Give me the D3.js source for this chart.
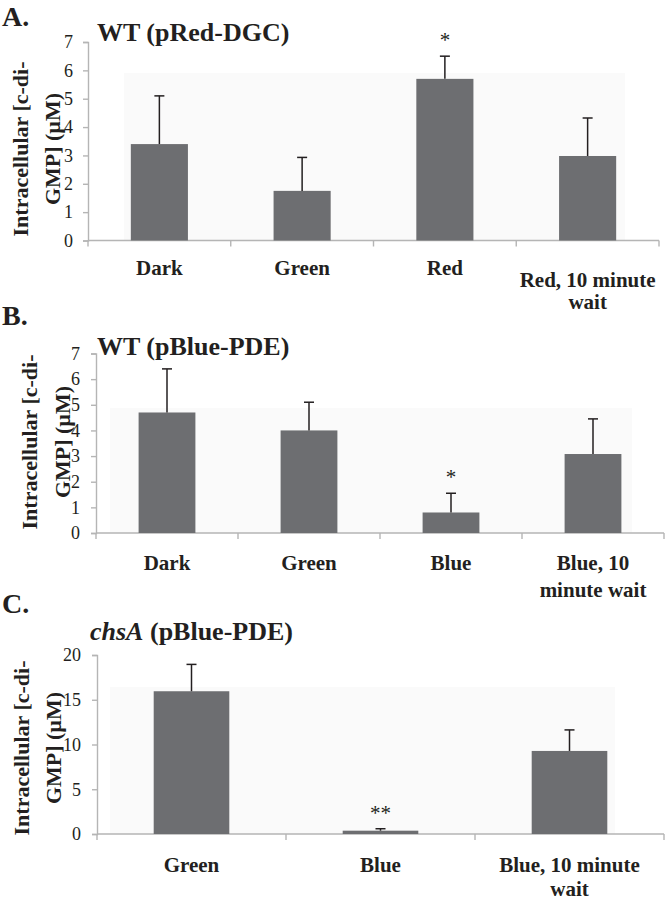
<!DOCTYPE html>
<html><head><meta charset="utf-8">
<script src="https://cdn.jsdelivr.net/npm/d3@7"></script>
<style>
html,body{margin:0;padding:0;background:#fff;}
svg{display:block;}
text{font-family:"Liberation Serif","Times New Roman",serif;fill:#231f20;}
</style></head>
<body>
<svg id="chart" width="666" height="904"></svg>
<script>
// ---------- data ----------
const catsA = ["Dark", "Green", "Red", "Red, 10 minute wait"];
const labelsA = [["Dark"], ["Green"], ["Red"], ["Red, 10 minute", "wait"]];
const valuesA = [3.4, 1.75, 5.7, 2.98];
const errorsA = [1.7, 1.18, 0.8, 1.34];
const sigA = ["", "", "*", ""];
const ticksA = [0, 1, 2, 3, 4, 5, 6, 7];

const catsB = ["Dark", "Green", "Blue", "Blue, 10 minute wait"];
const labelsB = [["Dark"], ["Green"], ["Blue"], ["Blue, 10", "minute wait"]];
const valuesB = [4.7, 4.0, 0.8, 3.08];
const errorsB = [1.7, 1.1, 0.75, 1.37];
const sigB = ["", "", "*", ""];
const ticksB = [0, 1, 2, 3, 4, 5, 6, 7];

const catsC = ["Green", "Blue", "Blue, 10 minute wait"];
const labelsC = [["Green"], ["Blue"], ["Blue, 10 minute", "wait"]];
const valuesC = [15.95, 0.37, 9.28];
const errorsC = [3.0, 0.22, 2.35];
const sigC = ["", "**", ""];
const ticksC = [0, 5, 10, 15, 20];

const yLabelLines = ["Intracellular [c-di-", "GMP] (\u00b5M)"];

// ---------- layout ----------
const panels = [
  {letter:"A.", titleParts:[{t:"WT (pRed-DGC)", it:false}], cats:catsA, labels:labelsA, values:valuesA, errors:errorsA, sig:sigA, ticks:ticksA, max:7,
   x0:88, x1:659, yTop:42, yBot:240.5, letterY:26, titleX:97, titleY:41, ylCy:149, yl1:28, yl2:60,
   labY:275, multiY:287, gap:22, tickPad:10, bg:[124,73,625,240]},
  {letter:"B.", titleParts:[{t:"WT (pBlue-PDE)", it:false}], cats:catsB, labels:labelsB, values:valuesB, errors:errorsB, sig:sigB, ticks:ticksB, max:7,
   x0:96, x1:664, yTop:353.5, yBot:533, letterY:325, titleX:97, titleY:355, ylCy:442, yl1:37, yl2:70,
   labY:570, multiY:570, gap:27, tickPad:11, bg:[110,408,632,533]},
  {letter:"C.", titleParts:[{t:"chsA", it:true},{t:" (pBlue-PDE)", it:false}], cats:catsC, labels:labelsC, values:valuesC, errors:errorsC, sig:sigC, ticks:ticksC, max:20,
   x0:97, x1:664, yTop:655, yBot:834, letterY:613, titleX:90, titleY:640, ylCy:748, yl1:29, yl2:61,
   labY:872, multiY:872, gap:24, tickPad:11, bg:[110,687,615,834]}
];

const svg = d3.select("#chart");
const barColor = "#6d6e71";
const axisColor = "#b5b5b5";

panels.forEach(p => {
  const g = svg.append("g");
  const x = d3.scaleBand().domain(p.cats).range([p.x0, p.x1]).paddingInner(0.6).paddingOuter(0.3);
  const y = d3.scaleLinear().domain([0, p.max]).range([p.yBot, p.yTop]);

  // faint plot background
  g.append("rect").attr("x", p.bg[0]).attr("y", p.bg[1]).attr("width", p.bg[2]-p.bg[0]).attr("height", p.bg[3]-p.bg[1]).attr("fill", "#fafafa");

  // y axis
  const ya = g.append("g").attr("transform", `translate(${p.x0},0)`)
    .call(d3.axisLeft(y).tickValues(p.ticks).tickSize(5).tickPadding(p.tickPad).tickFormat(d3.format("d")));
  ya.attr("font-family", null).attr("font-size", null);
  ya.select(".domain").attr("stroke", axisColor).attr("stroke-width", 1.4);
  ya.selectAll(".tick line").attr("stroke", axisColor).attr("stroke-width", 1.4);
  ya.selectAll(".tick text").attr("font-size", 18).attr("fill", "#231f20");

  // x axis baseline + band boundary ticks
  g.append("line").attr("x1", p.x0).attr("x2", p.x1).attr("y1", p.yBot).attr("y2", p.yBot)
    .attr("stroke", axisColor).attr("stroke-width", 1.4);
  const step = x.step();
  const bounds = p.cats.map(c => x(c) - step * 0.3).concat([p.x1]);
  g.selectAll(".xt").data(bounds).enter().append("line")
    .attr("x1", d => d).attr("x2", d => d).attr("y1", p.yBot).attr("y2", p.yBot + 6)
    .attr("stroke", axisColor).attr("stroke-width", 1.4);

  // bars
  g.selectAll(".bar").data(p.values).enter().append("rect")
    .attr("x", (d, i) => x(p.cats[i])).attr("width", x.bandwidth())
    .attr("y", d => y(d)).attr("height", d => y(0) - y(d)).attr("fill", barColor);

  // error bars (upper)
  p.values.forEach((v, i) => {
    const cx = x(p.cats[i]) + x.bandwidth() / 2;
    const top = y(v + p.errors[i]);
    g.append("line").attr("x1", cx).attr("x2", cx).attr("y1", y(v)).attr("y2", top).attr("stroke", "#231f20").attr("stroke-width", 1.5);
    g.append("line").attr("x1", cx - 5).attr("x2", cx + 5).attr("y1", top).attr("y2", top).attr("stroke", "#231f20").attr("stroke-width", 1.5);
    if (p.sig[i]) {
      g.append("text").attr("x", cx).attr("y", top - 9).attr("text-anchor", "middle")
        .attr("font-size", 21).text(p.sig[i]);
    }
  });

  // category labels
  p.labels.forEach((lines, i) => {
    const cx = x(p.cats[i]) + x.bandwidth() / 2;
    const startY = lines.length > 1 ? p.multiY : p.labY;
    const t = g.append("text").attr("text-anchor", "middle").attr("font-weight", "bold").attr("font-size", 21);
    lines.forEach((ln, k) => {
      t.append("tspan").attr("x", cx).attr("y", startY + k * p.gap).text(ln);
    });
  });

  // y label (rotated)
  [p.yl1, p.yl2].forEach((bx, k) => {
    g.append("text").attr("transform", `translate(${bx},${p.ylCy}) rotate(-90)`)
      .attr("text-anchor", "middle").attr("font-weight", "bold").attr("font-size", 22)
      .text(yLabelLines[k]);
  });

  // panel letter
  g.append("text").attr("x", 2).attr("y", p.letterY).attr("font-weight", "bold").attr("font-size", 28).text(p.letter);

  // title
  const tt = g.append("text").attr("x", p.titleX).attr("y", p.titleY).attr("font-weight", "bold").attr("font-size", 26);
  p.titleParts.forEach(part => {
    tt.append("tspan").attr("font-style", part.it ? "italic" : "normal").text(part.t);
  });
});
</script>
</body></html>
